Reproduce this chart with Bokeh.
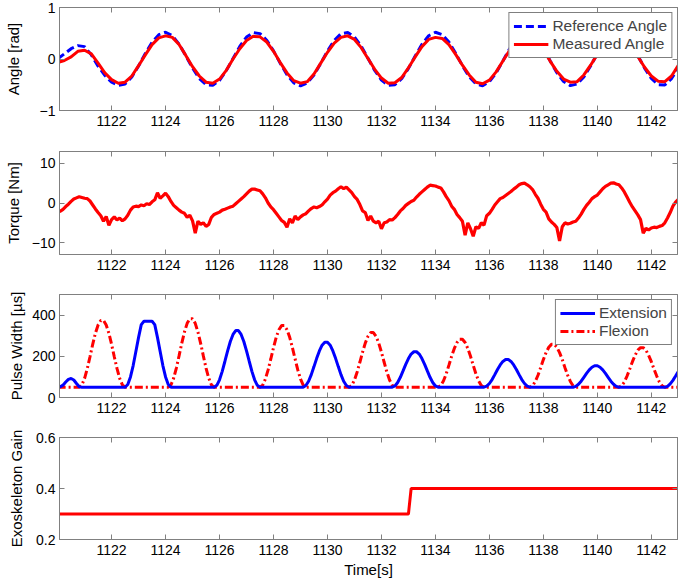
from bokeh.plotting import figure
from bokeh.models import Range1d, LinearAxis, FixedTicker, Legend, LegendItem, CustomLabelingPolicy
from bokeh.layouts import column
from bokeh.embed import file_html
from bokeh.resources import INLINE

# ---------------- data ----------------
x_ticks = [1122, 1124, 1126, 1128, 1130, 1132, 1134, 1136, 1138, 1140, 1142]
angle_ticks = [-1, 0, 1]
torque_ticks = [-10, 0, 10]
pulse_ticks = [0, 200, 400]
gain_ticks = [0.2, 0.4, 0.6]

# angle samples every 0.25 s from 1120.0 to 1143.0
t_angle = [round(1120.0 + 0.25 * i, 2) for i in range(93)]
ref_angle = [
    0.00, 0.10, 0.20, 0.26, 0.24, 0.08, -0.14, -0.32, -0.45, -0.51,
    -0.485, -0.347, -0.135, 0.107, 0.325, 0.473, 0.520, 0.454, 0.290, 0.063,
    -0.177, -0.379, -0.499, -0.511, -0.413, -0.226, 0.010, 0.244, 0.425, 0.514,
    0.493, 0.365, 0.158, -0.082, -0.306, -0.463, -0.520, -0.465, -0.310, -0.088,
    0.154, 0.361, 0.491, 0.515, 0.428, 0.248, 0.015, -0.222, -0.410, -0.510,
    -0.500, -0.382, -0.182, 0.058, 0.285, 0.451, 0.519, 0.475, 0.329, 0.112,
    -0.130, -0.344, -0.483, -0.518, -0.441, -0.269, -0.039, 0.199, 0.395, 0.505,
    0.506, 0.398, 0.204, -0.034, -0.265, -0.438, -0.517, -0.485, -0.348, -0.135,
    0.106, 0.325, 0.473, 0.520, 0.454, 0.290, 0.064, -0.176, -0.378, -0.499,
    -0.505, -0.38, -0.17,
]
meas_angle = [
    -0.07, -0.03, 0.04, 0.15, 0.17, 0.10, -0.08, -0.27, -0.40, -0.47,
    -0.45, -0.33, -0.13, 0.08, 0.28, 0.41, 0.45, 0.42, 0.28, 0.07,
    -0.15, -0.33, -0.45, -0.47, -0.39, -0.22, 0.00, 0.20, 0.36, 0.44,
    0.43, 0.33, 0.15, -0.07, -0.27, -0.42, -0.47, -0.44, -0.29, -0.08,
    0.13, 0.31, 0.42, 0.45, 0.38, 0.22, 0.01, -0.20, -0.37, -0.47,
    -0.46, -0.36, -0.17, 0.04, 0.24, 0.38, 0.42, 0.40, 0.28, 0.09,
    -0.12, -0.31, -0.45, -0.48, -0.41, -0.25, -0.04, 0.17, 0.34, 0.43,
    0.44, 0.35, 0.18, -0.04, -0.24, -0.39, -0.45, -0.44, -0.31, -0.12,
    0.09, 0.28, 0.40, 0.44, 0.39, 0.25, 0.05, -0.16, -0.33, -0.43,
    -0.44, -0.33, -0.12,
]

# torque / pulse samples every 0.1 s from 1120.0 to 1143.0
t_fine = [round(1120.0 + 0.1 * i, 1) for i in range(231)]
torque = [
    -2.0, -2.1, -1.6, -0.9, -0.3, 0.4, 1.0, 1.3, 1.6, 1.4,
    1.2, 1.1, 0.5, -0.5, -1.5, -2.4, -3.2, -4.6, -3.4, -5.6,
    -4.2, -3.5, -4.3, -3.8, -4.5, -4.0, -3.1, -1.8, -1.0, -0.8,
    -0.9, -0.5, -0.7, -0.2, -0.4, 0.3, 0.8, 2.6, 1.2, 1.8,
    2.5, 1.6, 0.4, -0.6, -1.2, -1.8, -2.3, -2.6, -3.6, -3.1,
    -4.5, -7.6, -4.6, -5.4, -5.0, -5.9, -5.4, -3.6, -2.9, -2.6,
    -2.3, -1.8, -1.6, -1.3, -1.0, -0.8, -0.2, 0.4, 1.0, 1.6,
    2.3, 3.0, 3.5, 3.5, 3.3, 3.1, 2.3, 1.3, 0.0, -1.0,
    -1.7, -2.6, -3.5, -4.4, -4.9, -6.1, -4.0, -5.0, -3.3, -4.2,
    -3.5, -3.0, -2.7, -2.0, -1.4, -1.0, -1.2, -0.9, -0.5, 0.3,
    1.0, 2.0, 2.6, 3.0, 3.6, 4.1, 3.6, 4.0, 3.3, 2.6,
    1.6, 0.9, -0.4, -2.0, -2.4, -4.4, -3.3, -4.6, -5.0, -4.6,
    -6.5, -5.0, -4.8, -4.2, -4.3, -3.7, -2.9, -2.0, -1.4, -0.6,
    -0.1, 0.4, 0.7, 1.5, 2.2, 2.8, 3.4, 4.0, 4.5, 4.4,
    4.3, 4.0, 3.8, 2.8, 1.6, 0.6, -0.8, -1.6, -2.9, -3.7,
    -4.6, -8.1, -5.0, -6.5, -8.4, -6.0, -6.4, -5.0, -5.6, -3.2,
    -2.6, -1.6, -0.5, 0.3, 1.1, 1.4, 1.9, 2.4, 2.9, 3.5,
    4.0, 4.6, 4.9, 5.0, 4.6, 4.1, 3.4, 2.2, 1.2, -0.3,
    -1.6, -2.3, -4.0, -4.8, -5.4, -6.2, -9.6, -6.0, -5.0, -5.3,
    -5.1, -4.8, -4.6, -3.8, -2.8, -1.6, -0.6, 0.2, 1.1, 1.6,
    2.0, 2.8, 3.6, 4.2, 4.6, 5.0, 5.1, 4.8, 4.6, 3.8,
    2.8, 1.5, 0.2, -1.0, -2.0, -3.0, -4.2, -7.6, -6.4, -6.8,
    -6.3, -6.1, -6.2, -5.9, -5.7, -5.0, -3.8, -2.4, -0.8, 0.2,
    0.9,
]
extension = (
    [50, 52, 60, 75, 88, 92, 85, 68, 52, 50] + [50] * 15
    + [50, 63, 100, 155, 223, 292, 354, 370, 370, 370, 370, 354, 292, 223, 155, 100, 63, 50] + [50] * 15
    + [50, 59, 86, 127, 176, 226, 272, 306, 325, 325, 306, 272, 226, 176, 127, 86, 59, 50] + [50] * 15
    + [50, 58, 79, 111, 150, 190, 226, 254, 268, 268, 254, 226, 190, 150, 111, 79, 58, 50] + [50] * 15
    + [50, 56, 73, 98, 129, 161, 189, 211, 222, 222, 211, 189, 161, 129, 98, 73, 56, 50] + [50] * 16
    + [50, 55, 68, 87, 111, 136, 158, 175, 184, 184, 175, 158, 136, 111, 87, 68, 55, 50] + [50] * 15
    + [50, 54, 64, 79, 98, 117, 134, 147, 154, 154, 147, 134, 117, 98, 79, 64, 54, 50] + [50] * 16
    + [50, 54, 66, 83, 104, 126]
)
flexion = (
    [50] * 8
    + [50, 61, 93, 141, 198, 258, 312, 352, 374, 374, 352, 312, 258, 198, 141, 93, 61, 50] + [50] * 15
    + [50, 61, 94, 143, 202, 263, 318, 360, 382, 382, 360, 318, 263, 202, 143, 94, 61, 50] + [50] * 16
    + [50, 60, 90, 134, 187, 242, 292, 329, 349, 349, 329, 292, 242, 187, 134, 90, 60, 50] + [50] * 15
    + [50, 59, 85, 124, 171, 220, 264, 297, 315, 315, 297, 264, 220, 171, 124, 85, 59, 50] + [50] * 15
    + [50, 58, 81, 115, 157, 200, 238, 267, 283, 283, 267, 238, 200, 157, 115, 81, 58, 50] + [50] * 16
    + [50, 57, 78, 108, 145, 184, 218, 244, 258, 258, 244, 218, 184, 145, 108, 78, 57, 50] + [50] * 15
    + [50, 57, 75, 104, 138, 174, 205, 230, 242, 242, 230, 205, 174, 138, 104, 75, 57, 50] + [50] * 5
)
t_gain = [1120.0, 1133.0, 1133.1, 1143.0]
gain = [0.3, 0.3, 0.4, 0.4]

# ---------------- styling ----------------
FONT = "Liberation Sans"
GRAY = "#808080"
BLUE = "#0000ff"
RED = "#ff0000"
W = 680

NO_LABELS = "for (let i = 0; i < indices.size; i++) { indices.set(i, false) }\nreturn indices"


def style_axis(ax, ticks):
    ax.ticker = FixedTicker(ticks=ticks)
    ax.major_tick_in = 5
    ax.major_tick_out = 0
    ax.minor_tick_line_color = None
    ax.axis_line_color = GRAY
    ax.major_tick_line_color = GRAY
    ax.major_label_text_font = FONT
    ax.major_label_text_font_size = "14px"
    ax.major_label_text_color = "black"
    ax.axis_label_text_font = FONT
    ax.axis_label_text_font_size = "15px"
    ax.axis_label_text_font_style = "normal"
    ax.axis_label_text_color = "black"


def make_fig(yr, yticks, ylabel, lab_standoff, height, bottom):
    p = figure(width=W, height=height,
               x_range=Range1d(1120.07, 1142.97), y_range=Range1d(*yr),
               output_backend="svg", toolbar_location=None,
               min_border_left=59, min_border_right=3,
               min_border_top=7, min_border_bottom=bottom)
    p.grid.visible = False
    p.outline_line_color = GRAY
    p.background_fill_color = "white"
    p.border_fill_color = "white"
    xax = p.below[0]
    yax = p.left[0]
    style_axis(xax, x_ticks)
    style_axis(yax, yticks)
    xax.major_label_standoff = 5
    yax.major_label_standoff = 4
    yax.axis_label = ylabel
    yax.axis_label_standoff = lab_standoff
    for loc, ticks in (("above", x_ticks), ("right", yticks)):
        ax = LinearAxis()
        style_axis(ax, ticks)
        ax.major_label_text_font_size = "0px"
        ax.major_label_standoff = 0
        ax.major_label_policy = CustomLabelingPolicy(code=NO_LABELS)
        p.add_layout(ax, loc)
    return p


def make_legend(items):
    lg = Legend(items=items, location="top_right")
    lg.label_text_font = FONT
    lg.label_text_font_size = "15.5px"
    lg.glyph_width = 35
    lg.glyph_height = 18
    lg.label_height = 18
    lg.label_standoff = 4
    lg.padding = 4
    lg.spacing = 0
    lg.margin = 5
    lg.border_line_color = "black"
    lg.border_line_width = 1
    lg.background_fill_color = "white"
    lg.background_fill_alpha = 1.0
    return lg


# Angle
p1 = make_fig((-1, 1), angle_ticks, "Angle [rad]", 15, 144, 34)
r_ref = p1.line(t_angle, ref_angle, line_color=BLUE, line_width=3, line_dash="8 4")
r_meas = p1.line(t_angle, meas_angle, line_color=RED, line_width=3)
p1.add_layout(make_legend([LegendItem(label="Reference Angle", renderers=[r_ref]),
                           LegendItem(label="Measured Angle", renderers=[r_meas])]))

# Torque
p2 = make_fig((-13, 13), torque_ticks, "Torque [Nm]", 7, 143, 33)
p2.line(t_fine, torque, line_color=RED, line_width=3.2)

# Pulse width
p3 = make_fig((0, 500), pulse_ticks, "Pulse Width [µs]", 4, 143, 33)
r_fl = p3.line(t_fine, flexion, line_color=RED, line_width=3, line_dash="8 3 2 3")
r_ex = p3.line(t_fine, extension, line_color=BLUE, line_width=3)
p3.add_layout(make_legend([LegendItem(label="Extension", renderers=[r_ex]),
                           LegendItem(label="Flexion", renderers=[r_fl])]))

# Gain
p4 = make_fig((0.2, 0.6), gain_ticks, "Exoskeleton Gain", 8, 153, 44)
p4.line(t_gain, gain, line_color=RED, line_width=3)
p4.below[0].axis_label = "Time[s]"
p4.below[0].axis_label_standoff = 3

layout = column(p1, p2, p3, p4, spacing=0)
open("out.html", "w").write(file_html(layout, INLINE))
